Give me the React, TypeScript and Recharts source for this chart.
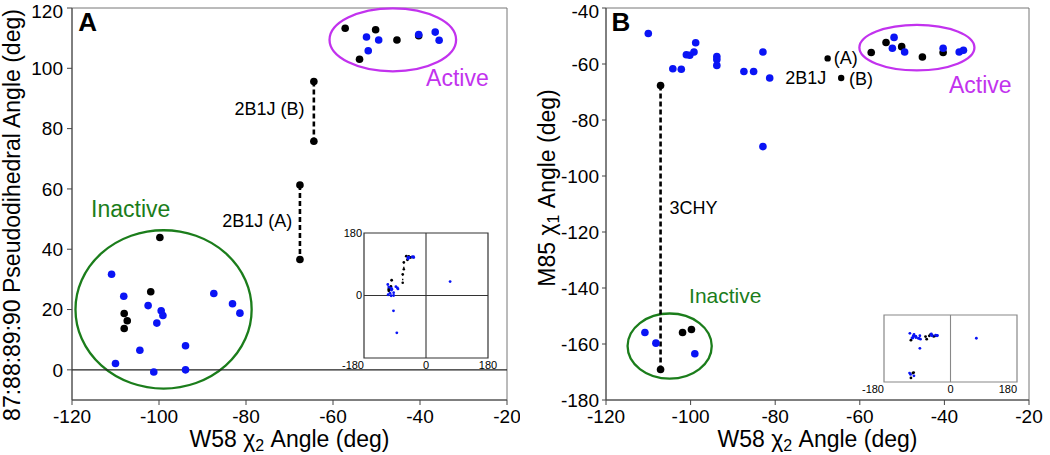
import React from "react";
import { ScatterChart, Scatter, XAxis, YAxis, ReferenceLine, ReferenceArea, ReferenceDot } from "recharts";

const FONT = '"Liberation Sans", Arial, sans-serif';
const BLUE = "#0a14f5";
const BLACK = "#000000";
const GREEN = "#1b7d1b";
const MAGENTA = "#c232ee";
const AXIS = "#444";

type Pt = { x: number; y: number };

// shared ticks
const xTicks = [-120, -100, -80, -60, -40, -20];
const yTicksA = [0, 20, 40, 60, 80, 100, 120];
const yTicksB = [-180, -160, -140, -120, -100, -80, -60, -40];
const insetTicks = [-180, 0, 180];

// panel A: W58 chi2 vs pseudodihedral
const blackA: Pt[] = [
  { x: -57.2, y: 113.3 }, { x: -50.2, y: 112.8 }, { x: -53.9, y: 103 }, { x: -45.3, y: 109.4 }, { x: -40.3, y: 110.8 },
  { x: -99.8, y: 43.9 }, { x: -101.9, y: 25.9 }, { x: -108, y: 18.7 }, { x: -107.3, y: 16.3 }, { x: -108, y: 13.7 },
];
const blueA: Pt[] = [
  { x: -52.3, y: 110.4 }, { x: -51.9, y: 105.8 }, { x: -49.5, y: 109.4 }, { x: -40.3, y: 111.2 }, { x: -36.5, y: 112 }, { x: -35.6, y: 109.3 },
  { x: -110.9, y: 31.7 }, { x: -108.1, y: 24.4 }, { x: -102.5, y: 21.3 }, { x: -99.5, y: 19.6 }, { x: -99.1, y: 18 },
  { x: -100.5, y: 15.5 }, { x: -104.4, y: 6.5 }, { x: -110, y: 2.1 }, { x: -101.2, y: -0.7 }, { x: -93.9, y: 8 },
  { x: -93.9, y: 0 }, { x: -87.4, y: 25.3 }, { x: -83.1, y: 21.9 }, { x: -81.4, y: 18.8 },
];
const link2B1JA_A: Pt[] = [{ x: -67.6, y: 61.3 }, { x: -67.6, y: 36.6 }];
const link2B1JB_A: Pt[] = [{ x: -64.4, y: 95.6 }, { x: -64.4, y: 75.8 }];
const extraInsetA: Pt[] = [{ x: 70, y: 40 }, { x: -94.4, y: -44 }, { x: -84.7, y: -107.5 }];

// panel B: W58 chi2 vs M85 chi1
const blackB: Pt[] = [
  { x: -57.3, y: -55.9 }, { x: -53.8, y: -52.3 }, { x: -50.1, y: -53.8 }, { x: -45.2, y: -57.5 }, { x: -40.3, y: -55.9 },
  { x: -101.9, y: -155.9 }, { x: -99.8, y: -154.8 },
];
const black2B1J_B: Pt[] = [{ x: -67.6, y: -58 }, { x: -64.4, y: -65 }];
const blueB: Pt[] = [
  { x: -110, y: -49.1 }, { x: -104.2, y: -61.7 }, { x: -102.2, y: -61.9 }, { x: -101, y: -56.7 }, { x: -100.2, y: -56.9 },
  { x: -99.2, y: -55.7 }, { x: -98.8, y: -52.4 }, { x: -93.8, y: -57.3 }, { x: -93.8, y: -58.4 }, { x: -93.8, y: -60.5 },
  { x: -87.4, y: -62.7 }, { x: -85.1, y: -62.7 }, { x: -82.9, y: -55.7 }, { x: -81.3, y: -65 }, { x: -82.9, y: -89.5 },
  { x: -51.9, y: -50.5 }, { x: -52.3, y: -54.4 }, { x: -49.4, y: -55.7 }, { x: -40.3, y: -54.4 }, { x: -36.5, y: -55.7 }, { x: -35.5, y: -55.1 },
  { x: -110.8, y: -155.9 }, { x: -108.2, y: -159.7 }, { x: -99, y: -163.5 },
];
const link3CHY_B: Pt[] = [{ x: -107.1, y: -67.7 }, { x: -107.1, y: -169.1 }];
const extraInsetB: Pt[] = [{ x: 70, y: -62.4 }];

const dot = (r: number, fill: string) => (p: any) =>
  p.cx == null ? <g /> : <circle cx={p.cx} cy={p.cy} r={r} fill={fill} />;

const note = (text: React.ReactNode, fill: string, size: number, anchor = "middle", weight = "normal") => (p: any) => (
  <text x={p.cx} y={p.cy} dy="0.35em" textAnchor={anchor} fill={fill} fontSize={size} fontWeight={weight} fontFamily={FONT}>
    {text}
  </text>
);

const ellipse = (stroke: string) => (p: any) => (
  <ellipse cx={p.x + p.width / 2} cy={p.y + p.height / 2} rx={Math.abs(p.width) / 2} ry={Math.abs(p.height) / 2}
    fill="none" stroke={stroke} strokeWidth={2.3} />
);

const xTitle = (p: any) => {
  const vb = p.viewBox;
  return (
    <text x={vb.x + vb.width / 2} y={vb.y + 47} textAnchor="middle" fontSize={23} fontFamily={FONT} fill="#000">
      <tspan>W58 χ</tspan>
      <tspan dy={4} fontSize={16}>2</tspan>
      <tspan dy={-4}> Angle (deg)</tspan>
    </text>
  );
};

const yTitle = (content: React.ReactNode, bx: number, dyc: number) => (p: any) => {
  const vb = p.viewBox;
  const x = vb.x + bx;
  const y = vb.y + vb.height / 2 + dyc;
  return (
    <text x={x} y={y} transform={`rotate(-90 ${x} ${y})`} textAnchor="middle" fontSize={23} fontFamily={FONT} fill="#000">
      {content}
    </text>
  );
};

const insetXTick = (anchors: Record<string, string>) => (p: any) => (
  <text x={p.x} y={p.y} dy="0.71em" textAnchor={anchors[String(p.payload.value)] ?? "middle"} fontSize={11}
    fontFamily={FONT} fill="#000" stroke="none">
    {p.payload.value}
  </text>
);

const tickStyle = { fill: "#000", fontSize: 19, fontFamily: FONT };
const insetTickStyle = { fill: "#000", fontSize: 11, fontFamily: FONT };
const dashLine = { stroke: BLACK, strokeWidth: 2.6, strokeDasharray: "5 3" };

export default function App() {
  return (
    <div style={{ position: "absolute", left: 0, top: 0, width: 1050, height: 455, background: "#fff" }}>
      {/* Panel A */}
      <div style={{ position: "absolute", left: 0, top: 0 }}>
        <ScatterChart width={520} height={455} margin={{ top: 8, right: 13, bottom: 0, left: 0 }}>
          <XAxis type="number" dataKey="x" domain={[-120, -20]} ticks={xTicks} allowDataOverflow height={55}
            tickSize={5} tickMargin={5} stroke={AXIS} tick={tickStyle} label={{ content: xTitle }} />
          <YAxis type="number" dataKey="y" domain={[-10, 120]} ticks={yTicksA} allowDataOverflow width={72}
            tickSize={5} tickMargin={4} stroke={AXIS} tick={tickStyle}
            label={{ content: yTitle("87:88:89:90 Pseudodihedral Angle (deg)", 20, 11) }} />
          <ReferenceArea x1={-120} x2={-20} y1={-10} y2={120} fill="none" fillOpacity={0} stroke="#777" />
          <ReferenceLine y={0} stroke="#222" strokeWidth={1.2} />
          <ReferenceArea x1={-119.2} x2={-78.7} y1={-6.2} y2={46.3} shape={ellipse(GREEN)} />
          <ReferenceArea x1={-60.8} x2={-31.7} y1={99} y2={119.9} shape={ellipse(MAGENTA)} />
          <Scatter data={link2B1JA_A} line={dashLine} lineType="joint" shape={dot(3.8, BLACK)} isAnimationActive={false} />
          <Scatter data={link2B1JB_A} line={dashLine} lineType="joint" shape={dot(3.8, BLACK)} isAnimationActive={false} />
          <Scatter data={blackA} shape={dot(3.8, BLACK)} isAnimationActive={false} />
          <Scatter data={blueA} shape={dot(3.8, BLUE)} isAnimationActive={false} />
          <ReferenceDot x={-116.4} y={115.4} r={0} shape={note("A", "#000", 26, "middle", "bold")} />
          <ReferenceDot x={-31.4} y={96.7} r={0} shape={note("Active", MAGENTA, 23)} />
          <ReferenceDot x={-106.5} y={53.2} r={0} shape={note("Inactive", GREEN, 23)} />
          <ReferenceDot x={-74.6} y={86.7} r={0} shape={note("2B1J (B)", "#000", 18)} />
          <ReferenceDot x={-77.4} y={49.4} r={0} shape={note("2B1J (A)", "#000", 18)} />
        </ScatterChart>
      </div>

      {/* Inset A */}
      <div style={{ position: "absolute", left: 334, top: 225 }}>
        <ScatterChart width={168} height={151} margin={{ top: 8, right: 14, bottom: 0, left: 0 }}>
          <XAxis type="number" dataKey="x" domain={[-180, 180]} ticks={insetTicks} allowDataOverflow height={18}
            tickLine={false} axisLine={false} tickSize={0} tickMargin={3} tick={insetXTick({ "-180": "end" })} />
          <YAxis type="number" dataKey="y" domain={[-180, 180]} ticks={[0, 180]} allowDataOverflow width={30}
            tickLine={false} axisLine={false} tickSize={0} tickMargin={2} tick={insetTickStyle} />
          <ReferenceArea x1={-180} x2={180} y1={-180} y2={180} fill="none" fillOpacity={0} stroke="#333" strokeWidth={1.2} />
          <ReferenceLine x={0} stroke="#333" strokeWidth={1.1} />
          <ReferenceLine y={0} stroke="#333" strokeWidth={1.1} />
          <Scatter data={link2B1JA_A} line={{ stroke: BLACK, strokeWidth: 1.3, strokeDasharray: "1.5 3" }} lineType="joint" shape={dot(1.3, BLACK)} isAnimationActive={false} />
          <Scatter data={link2B1JB_A} line={{ stroke: BLACK, strokeWidth: 1.3, strokeDasharray: "1.5 3" }} lineType="joint" shape={dot(1.3, BLACK)} isAnimationActive={false} />
          <Scatter data={blackA} shape={dot(1.4, BLACK)} isAnimationActive={false} />
          <Scatter data={[...blueA, ...extraInsetA]} shape={dot(1.4, BLUE)} isAnimationActive={false} />
        </ScatterChart>
      </div>

      {/* Panel B */}
      <div style={{ position: "absolute", left: 520, top: 0 }}>
        <ScatterChart width={530} height={455} margin={{ top: 8, right: 21, bottom: 0, left: 0 }}>
          <XAxis type="number" dataKey="x" domain={[-120, -20]} ticks={xTicks} allowDataOverflow height={55}
            tickSize={5} tickMargin={5} stroke={AXIS} tick={tickStyle} label={{ content: xTitle }} />
          <YAxis type="number" dataKey="y" domain={[-180, -40]} ticks={yTicksB} allowDataOverflow width={86}
            tickSize={4} tickMargin={3} stroke={AXIS} tick={tickStyle}
            label={{
              content: yTitle(
                <>
                  <tspan>M85 χ</tspan>
                  <tspan dy={4} fontSize={16}>1</tspan>
                  <tspan dy={-4}> Angle (deg)</tspan>
                </>,
                35,
                -16
              ),
            }} />
          <ReferenceArea x1={-120} x2={-20} y1={-180} y2={-40} fill="none" fillOpacity={0} stroke="#777" />
          <ReferenceArea x1={-114.9} x2={-95} y1={-172.4} y2={-149.1} shape={ellipse(GREEN)} />
          <ReferenceArea x1={-60.1} x2={-32.9} y1={-62.3} y2={-46} shape={ellipse(MAGENTA)} />
          <Scatter data={link3CHY_B} line={dashLine} lineType="joint" shape={dot(3.8, BLACK)} isAnimationActive={false} />
          <Scatter data={blackB} shape={dot(3.8, BLACK)} isAnimationActive={false} />
          <Scatter data={black2B1J_B} shape={dot(3.2, BLACK)} isAnimationActive={false} />
          <Scatter data={blueB} shape={dot(3.8, BLUE)} isAnimationActive={false} />
          <ReferenceDot x={-116.5} y={-44.8} r={0} shape={note("B", "#000", 26, "middle", "bold")} />
          <ReferenceDot x={-31.5} y={-67.4} r={0} shape={note("Active", MAGENTA, 23)} />
          <ReferenceDot x={-91.8} y={-142.9} r={0} shape={note("Inactive", GREEN, 21)} />
          <ReferenceDot x={-99.3} y={-111.3} r={0} shape={note("3CHY", "#000", 18)} />
          <ReferenceDot x={-72.8} y={-64.8} r={0} shape={note("2B1J", "#000", 18)} />
          <ReferenceDot x={-63.3} y={-57.7} r={0} shape={note("(A)", "#000", 18)} />
          <ReferenceDot x={-59.7} y={-65.4} r={0} shape={note("(B)", "#000", 18)} />
        </ScatterChart>
      </div>

      {/* Inset B */}
      <div style={{ position: "absolute", left: 854, top: 307 }}>
        <ScatterChart width={177} height={93} margin={{ top: 8, right: 14, bottom: 0, left: 0 }}>
          <XAxis type="number" dataKey="x" domain={[-180, 180]} ticks={insetTicks} allowDataOverflow height={18}
            tickLine={false} axisLine={false} tickSize={0} tickMargin={3} tick={insetXTick({ "-180": "end", "180": "end" })} />
          <YAxis type="number" dataKey="y" domain={[-180, 0]} ticks={[0]} allowDataOverflow width={30}
            tickLine={false} axisLine={false} tickSize={0} tickMargin={2} tick={insetTickStyle} />
          <ReferenceArea x1={-180} x2={180} y1={-180} y2={0} fill="none" fillOpacity={0} stroke="#888" strokeWidth={1.2} />
          <ReferenceLine x={0} stroke="#888" strokeWidth={1.1} />
          <Scatter data={[...blackB, ...black2B1J_B, ...link3CHY_B]} shape={dot(1.4, BLACK)} isAnimationActive={false} />
          <Scatter data={[...blueB, ...extraInsetB]} shape={dot(1.4, BLUE)} isAnimationActive={false} />
        </ScatterChart>
      </div>
    </div>
  );
}
